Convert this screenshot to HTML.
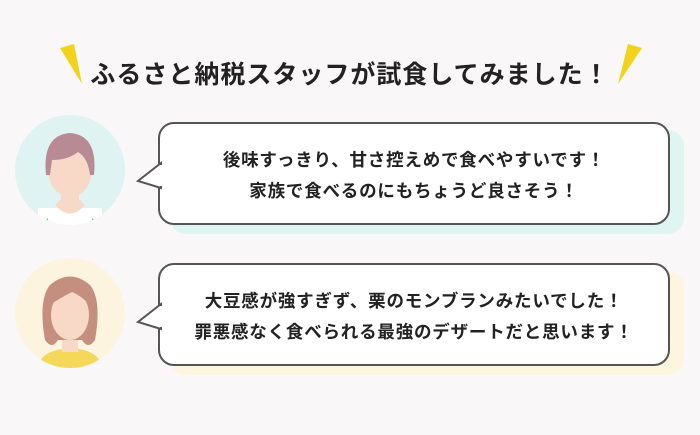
<!DOCTYPE html>
<html><head><meta charset="utf-8"><style>
body{margin:0;width:700px;height:435px;background:#faf7f8;position:relative;overflow:hidden;font-family:"Liberation Sans","Noto Sans CJK JP",sans-serif;}
.t{position:absolute;left:0;width:700px;text-align:center;top:55px;font-size:25px;font-weight:bold;color:#222;letter-spacing:1px}
.sh{position:absolute;border-radius:16px}
.b{position:absolute;left:158px;width:512px;height:103px;background:#fff;border:2px solid #555;border-radius:16px;box-sizing:border-box;text-align:center;font-weight:bold;color:#222;font-size:17.5px;line-height:31px;padding-top:21px;letter-spacing:0.8px}
svg{position:absolute;left:0;top:0}
</style></head><body>
<div class="t">ふるさと納税スタッフが試食してみました！</div>
<div class="sh" style="left:170px;top:130px;width:514px;height:104px;background:#dff5f1"></div>
<div class="sh" style="left:170px;top:271px;width:514px;height:104px;background:#fdf5dd"></div>
<div class="b" style="top:122px">後味すっきり、甘さ控えめで食べやすいです！<br>家族で食べるのにもちょうど良さそう！</div>
<div class="b" style="top:263px">大豆感が強すぎず、栗のモンブランみたいでした！<br>罪悪感なく食べられる最強のデザートだと思います！</div>
<svg width="700" height="435">
<polygon points="60,48 74,44 82,84" fill="#f2d21a"/>
<polygon points="628,44 642,48 618,84" fill="#f2d21a"/>
<polygon points="161,163 138,181 161,188" fill="#fff" stroke="#555" stroke-width="2"/>
<rect x="160" y="165" width="4" height="21" fill="#fff"/>
<polygon points="161,304 138,322 161,329" fill="#fff" stroke="#555" stroke-width="2"/>
<rect x="160" y="306" width="4" height="21" fill="#fff"/>
<defs><clipPath id="c1"><circle cx="70" cy="170" r="55"/></clipPath><clipPath id="c2"><circle cx="70" cy="313" r="55"/></clipPath></defs>
<circle cx="70" cy="170" r="55" fill="#dff4f2"/>
<g clip-path="url(#c1)">
<rect x="38" y="208" width="64" height="20" fill="#fff"/>
<polygon points="40,226 52,214 52,226" fill="#5cc3b8"/><polygon points="100,226 88,214 88,226" fill="#5cc3b8"/>
<rect x="61" y="190" width="18" height="20" fill="#f8d9c8"/>
<path d="M48,212 Q70,200 92,212 L92,226 L48,226Z" fill="#fff"/>
<path d="M55,205 Q70,222 85,205 L80,200 L60,200Z" fill="#f8d9c8"/>
<ellipse cx="70" cy="170" rx="22" ry="27" fill="#f8d9c8"/>
<path d="M46,175 Q42,135 70,133 Q98,135 94,175 L90,175 Q88,158 78,152 Q68,160 52,160 L50,175Z" fill="#b88a93"/>
</g>
<circle cx="70" cy="313" r="55" fill="#fdf4df"/>
<g clip-path="url(#c2)">
<path d="M38,368 Q40,350 70,348 Q100,350 102,368Z" fill="#f5d75a"/>
<rect x="62" y="330" width="16" height="22" fill="#f8d9c8"/>
<path d="M45,340 Q38,300 50,285 Q70,268 90,285 Q102,300 95,340 Q88,350 82,340 L58,340 Q52,350 45,340Z" fill="#c58f80"/>
<ellipse cx="70" cy="315" rx="19" ry="25" fill="#f8d9c8"/>
<path d="M50,305 Q55,285 72,286 Q88,288 90,305 Q80,295 72,292 Q60,298 50,305Z" fill="#c58f80"/>
</g>
</svg>
</body></html>
